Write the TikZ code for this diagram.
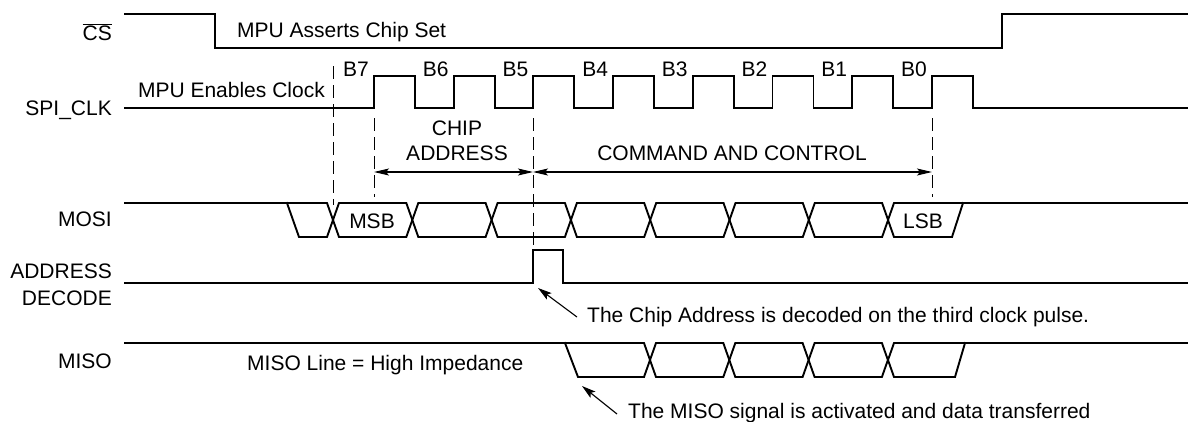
\documentclass[tikz,border=0pt]{standalone}
\usepackage{fontspec}
\setmainfont{Liberation Sans}
\usetikzlibrary{arrows.meta}
\begin{document}
\begin{tikzpicture}[x=1pt,y=-1pt,
  sig/.style={line width=1.9pt, line join=miter, line cap=rect},
  dline/.style={line width=1pt, dash pattern=on 13pt off 6pt},
  dimarrow/.style={line width=1.1pt, {Stealth[length=15pt,width=7pt,inset=3pt]}-{Stealth[length=15pt,width=7pt,inset=3pt]}},
  callout/.style={line width=1.1pt, -{Stealth[length=14pt,width=8pt,inset=3pt]}},
  lbl/.style={font=\fontsize{21}{27}\selectfont, inner sep=0pt}]
\useasboundingbox (0,0) rectangle (1191,421);

% ---------- CS ----------
\node[lbl, anchor=base east] (lcs) at (112,40.5) {$\overline{\hbox{CS}}$};
\draw[sig] (125,14) -- (215,14) -- (215,48) -- (1002,48) -- (1002,14) -- (1187,14);
\node[lbl, anchor=base west] (tcs) at (237,37.5) {MPU Asserts Chip Set};

% ---------- SPI_CLK ----------
\node[lbl, anchor=base east] (lclk) at (112,115) {SPI\_CLK};
\draw[sig] (125,108)
  foreach \k in {0,...,7} {
    -- ({374+79.7*\k},108) -- ({374+79.7*\k},76) -- ({415+79.7*\k},76) -- ({415+79.7*\k},108)
  } -- (1187,108);
\node[lbl, anchor=base east] (tclk) at (325,97) {MPU Enables Clock};
\foreach \k/\b in {0/7,1/6,2/5,3/4,4/3,5/2,6/1,7/0}
  \node[lbl, anchor=base] (b\b) at ({356+79.7*\k},76.5) {B\b};

% ---------- dashed markers ----------
\coordinate (d0t) at (333,66);  \coordinate (d0b) at (333,205);
\coordinate (d1t) at (374,118); \coordinate (d1b) at (374,197);
\coordinate (d2t) at (533,118); \coordinate (d2b) at (533,250);
\coordinate (d3t) at (932,118); \coordinate (d3b) at (932,197);
\draw[dline] (d0t) -- (d0b);
\draw[dline] (d1t) -- (d1b);
\draw[dline] (d2t) -- (d2b);
\draw[dline] (d3t) -- (d3b);

% ---------- dimension arrows ----------
\coordinate (a1) at (374,172);
\coordinate (a2) at (533,172);
\coordinate (a3) at (932,172);
\draw[dimarrow] (a1) -- (a2);
\draw[dimarrow] (a2) -- (a3);
\node[lbl, anchor=base] (chip) at (457,135) {CHIP};
\node[lbl, anchor=base] (addr) at (457,160) {ADDRESS};
\node[lbl, anchor=base] (cmd) at (732,160) {COMMAND AND CONTROL};

% ---------- MOSI ----------
\node[lbl, anchor=base east] (lmosi) at (112,226) {MOSI};
% first cell
\draw[sig] (125,203) -- (327,203) -- (333,220) -- (327,237) -- (299,237) -- (287,203);
% middle cells
\foreach \k in {0,...,6} {
  \pgfmathsetmacro{\ca}{333+79.3*\k}
  \pgfmathsetmacro{\cb}{333+79.3*(\k+1)}
  \draw[sig] (\ca,220) -- (\ca+6,203) -- (\cb-6,203) -- (\cb,220) -- (\cb-6,237) -- (\ca+6,237) -- cycle;
}
% last cell
\draw[sig] (1187,203) -- (894,203) -- (888,220) -- (894,237) -- (952,237) -- (963,203);
\node[lbl, anchor=base] (msb) at (372,228) {MSB};
\node[lbl, anchor=base] (lsb) at (923,228) {LSB};

% ---------- ADDRESS DECODE ----------
\node[lbl, anchor=base east] (ladr1) at (112,278) {ADDRESS};
\node[lbl, anchor=base east] (ladr2) at (112,305) {DECODE};
\draw[sig] (125,283) -- (533,283) -- (533,250) -- (563,250) -- (563,283) -- (1187,283);
\coordinate (p1tail) at (577,317);
\coordinate (p1head) at (538,288);
\draw[callout] (p1tail) -- (p1head);
\node[lbl, anchor=base west] (note1) at (587,322) {The Chip Address is decoded on the third clock pulse.};

% ---------- MISO ----------
\node[lbl, anchor=base east] (lmiso) at (112,368) {MISO};
\draw[sig] (125,343) -- (644,343) -- (650,360) -- (644,377) -- (578,377) -- (565,343);
\foreach \k in {0,...,2} {
  \pgfmathsetmacro{\ca}{650+79.3*\k}
  \pgfmathsetmacro{\cb}{650+79.3*(\k+1)}
  \draw[sig] (\ca,360) -- (\ca+6,343) -- (\cb-6,343) -- (\cb,360) -- (\cb-6,377) -- (\ca+6,377) -- cycle;
}
\draw[sig] (1187,343) -- (894,343) -- (888,360) -- (894,377) -- (955,377) -- (965,343);
\node[lbl, anchor=base west] (tmiso) at (247,370) {MISO Line = High Impedance};
\coordinate (p2tail) at (617,414);
\coordinate (p2head) at (582,386);
\draw[callout] (p2tail) -- (p2head);
\node[lbl, anchor=base west] (note2) at (628,418) {The MISO signal is activated and data transferred};
\end{tikzpicture}
\end{document}
